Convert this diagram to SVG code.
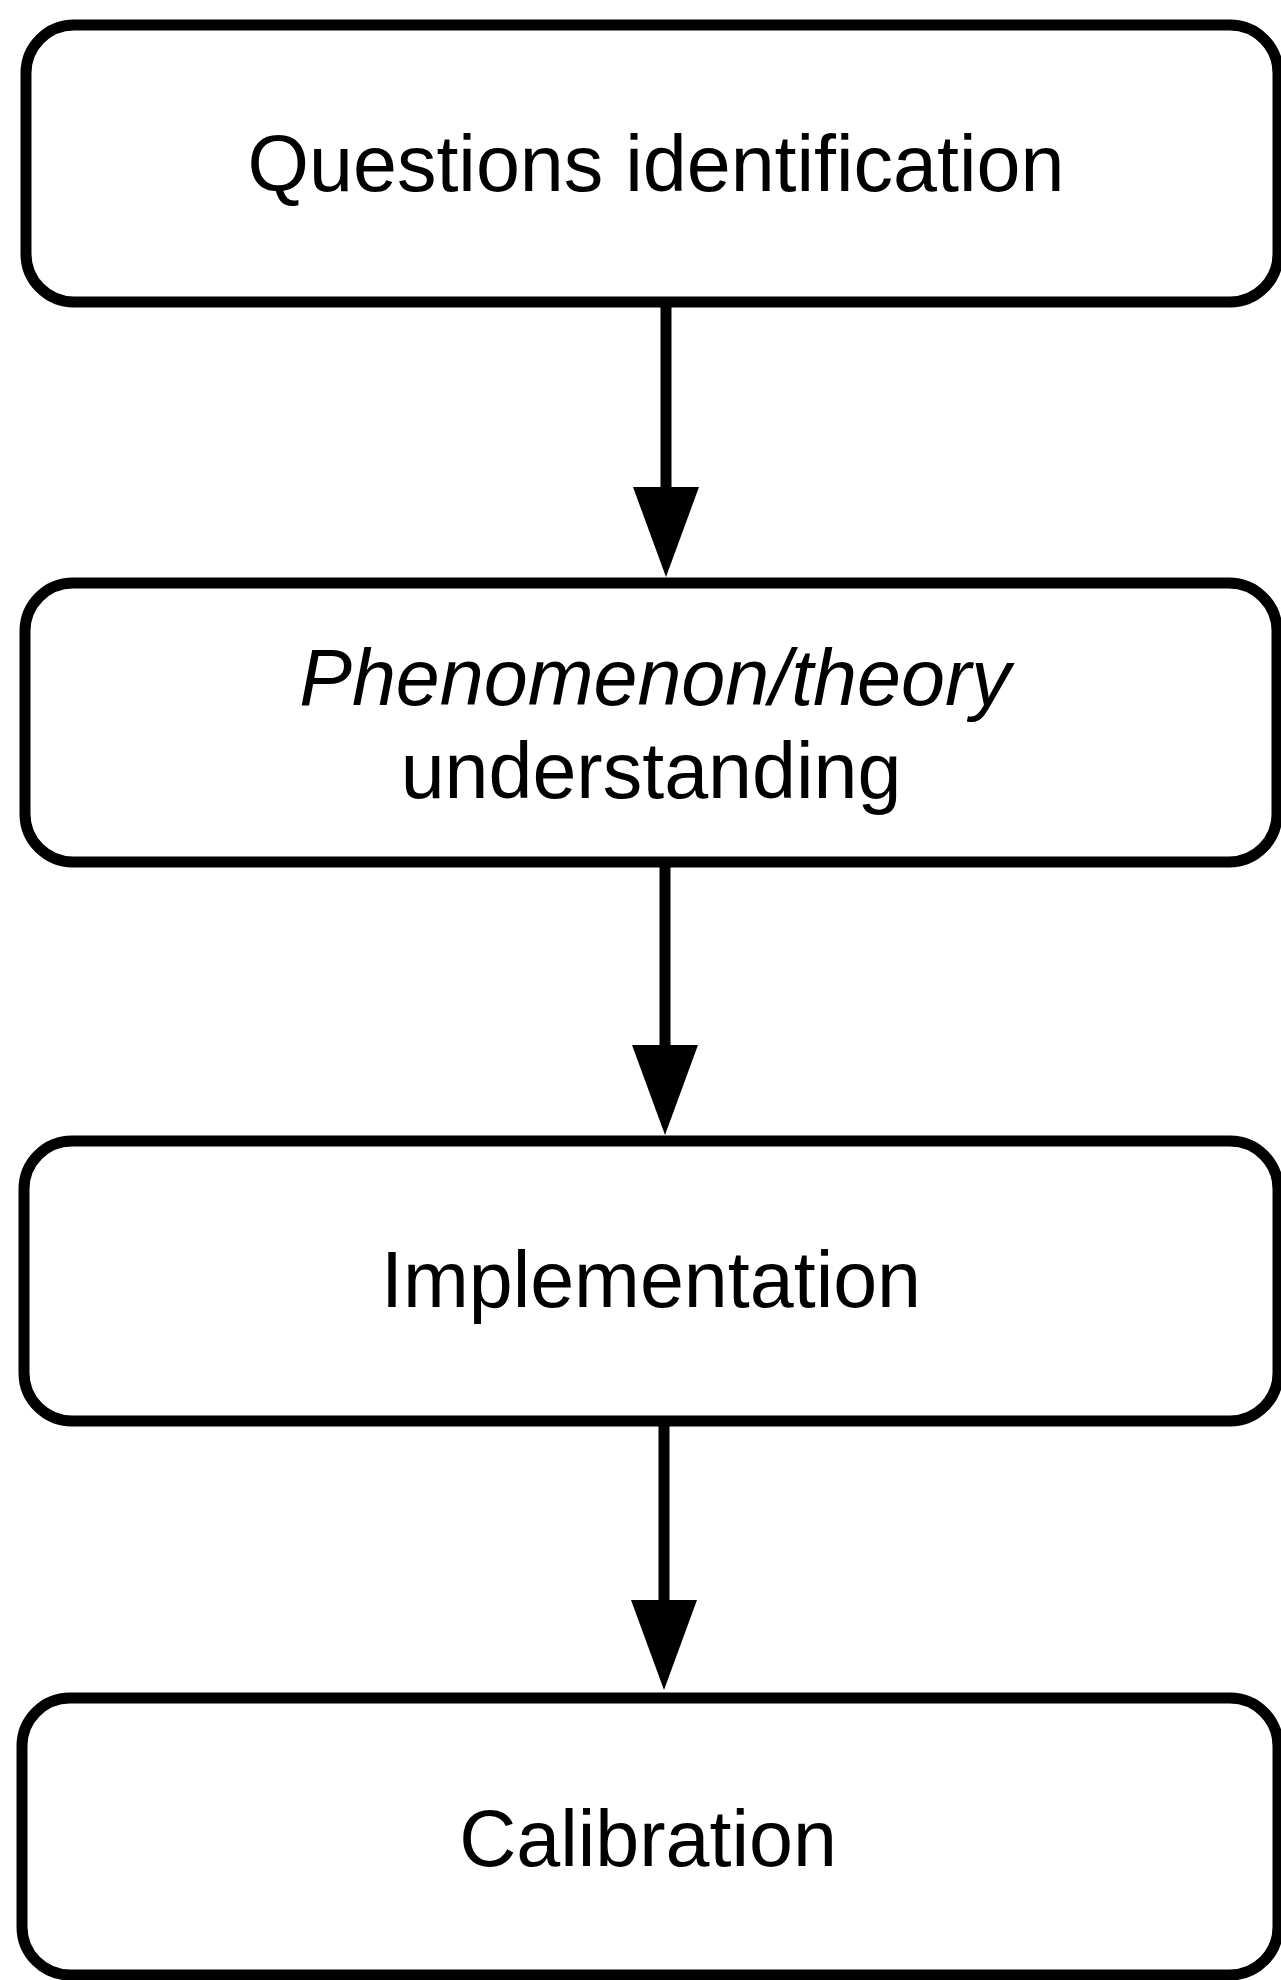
<svg xmlns="http://www.w3.org/2000/svg" width="1281" height="1980" viewBox="0 0 1281 1980">
  <style>
    .box { fill: #ffffff; stroke: #000000; stroke-width: 11; }
    .label { font-family: "Liberation Sans", Arial, sans-serif; font-size: 79px; fill: #000000; text-anchor: middle; }
    .oblique { font-style: italic; }
    .link { stroke: #000000; stroke-width: 11; fill: none; marker-end: url(#head); }
  </style>
  <defs>
    <marker id="head" markerUnits="userSpaceOnUse" markerWidth="92" markerHeight="70" refX="0" refY="0" viewBox="0 -35 92 70" orient="auto" overflow="visible">
      <path d="M0,-33 L90,0 L0,33 Z" fill="#000000"/>
    </marker>
  </defs>
  <rect width="1281" height="1980" fill="#ffffff"/>

  <g id="connectors">
    <line class="link" x1="666" y1="302" x2="666" y2="487"/>
    <line class="link" x1="665" y1="862" x2="665" y2="1045"/>
    <line class="link" x1="664" y1="1421" x2="664" y2="1600"/>
  </g>

  <g id="questions-identification">
    <rect class="box" x="26" y="25" width="1252" height="277" rx="48" ry="48"/>
    <text class="label" x="656" y="191">Questions identification</text>
  </g>

  <g id="phenomenon-understanding">
    <rect class="box" x="25" y="583" width="1252" height="279" rx="48" ry="48"/>
    <text class="label oblique" x="655" y="705">Phenomenon/theory</text>
    <text class="label" x="651" y="798">understanding</text>
  </g>

  <g id="implementation">
    <rect class="box" x="24" y="1141" width="1254" height="280" rx="48" ry="48"/>
    <text class="label" x="651" y="1307">Implementation</text>
  </g>

  <g id="calibration">
    <rect class="box" x="22" y="1698" width="1256" height="277" rx="48" ry="48"/>
    <text class="label" x="648" y="1866">Calibration</text>
  </g>
</svg>
